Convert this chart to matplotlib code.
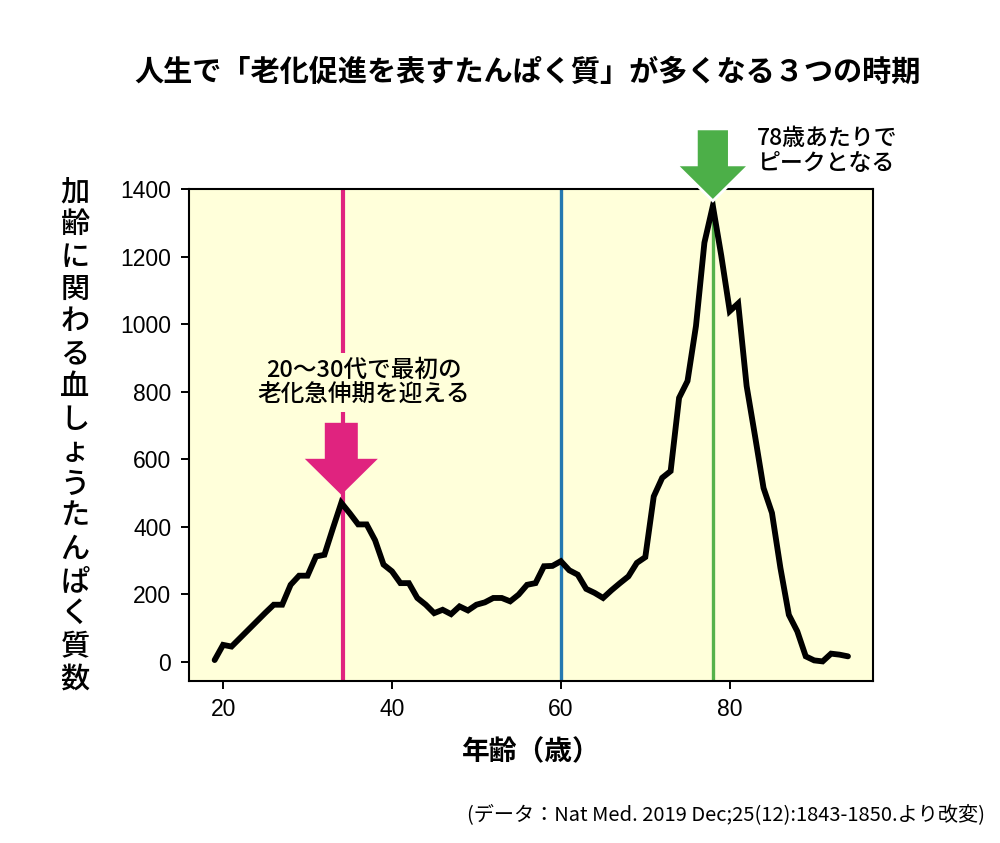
import matplotlib
matplotlib.use("Agg")
import matplotlib.pyplot as plt
import matplotlib.transforms as mtransforms
from matplotlib.patches import Polygon

plt.rcParams['font.family'] = ['Noto Sans CJK JP', 'DejaVu Sans']

# ---- data ----
ages = list(range(19, 95))
proteins = [5, 50, 45, 70, 95, 120, 145, 169, 169, 228,
            255, 255, 312, 317, 395, 471, 440, 407, 407, 360,
            288, 268, 233, 233, 189, 169, 144, 154, 141, 164,
            152, 169, 176, 189, 189, 179, 199, 228, 233, 283,
            284, 298, 271, 258, 216, 204, 189, 212, 233, 253,
            293, 310, 490, 545, 565, 782, 832, 995, 1242, 1351,
            1203, 1039, 1062, 817, 668, 515, 441, 278, 139, 90,
            16, 4, 1, 24, 21, 16]
xticks = [20, 40, 60, 80]
yticks = [0, 200, 400, 600, 800, 1000, 1200, 1400]
marker_ages = [34.2, 60.0, 78.0]
marker_colors = ['#E0237F', '#2478B0', '#55B24A']

title = '人生で「老化促進を表すたんぱく質」が多くなる３つの時期'
ylabel = '加齢に関わる血しょうたんぱく質数'
xlabel = '年齢（歳）'
note1 = '20〜30代で最初の\n老化急伸期を迎える'
note2 = '78歳あたりで\nピークとなる'
source = '(データ：Nat Med. 2019 Dec;25(12):1843-1850.より改変)'

BG = '#FFFFDA'

fig = plt.figure(figsize=(10, 8.43), dpi=100)
ax = fig.add_axes([0.1893, 0.1922, 0.684, 0.5832])
ax.set_facecolor(BG)

ax.axvline(marker_ages[0], color=marker_colors[0], lw=3.0, zorder=1)
ax.axvline(marker_ages[1], color=marker_colors[1], lw=2.4, zorder=1)
ax.axvline(marker_ages[2], color=marker_colors[2], lw=2.4, zorder=1)

ax.plot(ages, proteins, color='black', lw=4.2, zorder=3,
        solid_joinstyle='miter', solid_capstyle='round')

ax.set_xlim(16, 97)
ax.set_ylim(-57, 1400)
ax.set_xticks(xticks)
ax.set_yticks(yticks)
for lab in ax.get_xticklabels() + ax.get_yticklabels():
    lab.set_fontfamily('Liberation Sans')
    lab.set_fontsize(16.5)
ax.tick_params(direction='out', length=6, width=1.4)
ax.tick_params(axis='y', pad=7)
ax.tick_params(axis='x', pad=6)
for sp in ax.spines.values():
    sp.set_linewidth(1.5)


def down_arrow(x, y, gap, color, edge, lw):
    hw, sw, hl, sl = 36.5, 16.5, 36, 36
    verts = [(0, 0), (-hw, hl), (-sw, hl), (-sw, hl + sl),
             (sw, hl + sl), (sw, hl), (hw, hl)]
    trans = (mtransforms.Affine2D().translate(0, gap)
             + mtransforms.ScaledTranslation(x, y, ax.transData))
    p = Polygon(verts, closed=True, transform=trans, facecolor=color,
                edgecolor=edge, lw=lw, clip_on=False, zorder=6,
                joinstyle='miter')
    ax.add_artist(p)


i1 = proteins.index(max(proteins[:30]))
i2 = proteins.index(max(proteins))
down_arrow(ages[i1], proteins[i1], 8, marker_colors[0], 'none', 0)
down_arrow(ages[i2], proteins[i2], 5, '#4CAF48', 'white', 2.0)

ax.text(0.2547, 0.607, note1, transform=ax.transAxes, ha='center',
        va='center', fontsize=17, linespacing=1.12, zorder=4,
        fontweight='medium',
        bbox=dict(facecolor=BG, edgecolor='none', pad=4))

fig.text(0.757, 0.821, note2, ha='left', va='center', fontsize=16.5,
         linespacing=1.12, fontweight='medium')

fig.text(0.528, 0.9146, title, ha='center', va='center', fontsize=21,
         fontweight='bold')
fig.text(0.531, 0.108, xlabel, ha='center', va='center', fontsize=20,
         fontweight='bold')
fig.text(0.075, 0.4835, '\n'.join(ylabel), ha='center', va='center',
         fontsize=21, fontweight='medium', linespacing=1.06)
fig.text(0.985, 0.0332, source, ha='right', va='center', fontsize=14.5)

fig.savefig('out.png', dpi=100, facecolor='white')
